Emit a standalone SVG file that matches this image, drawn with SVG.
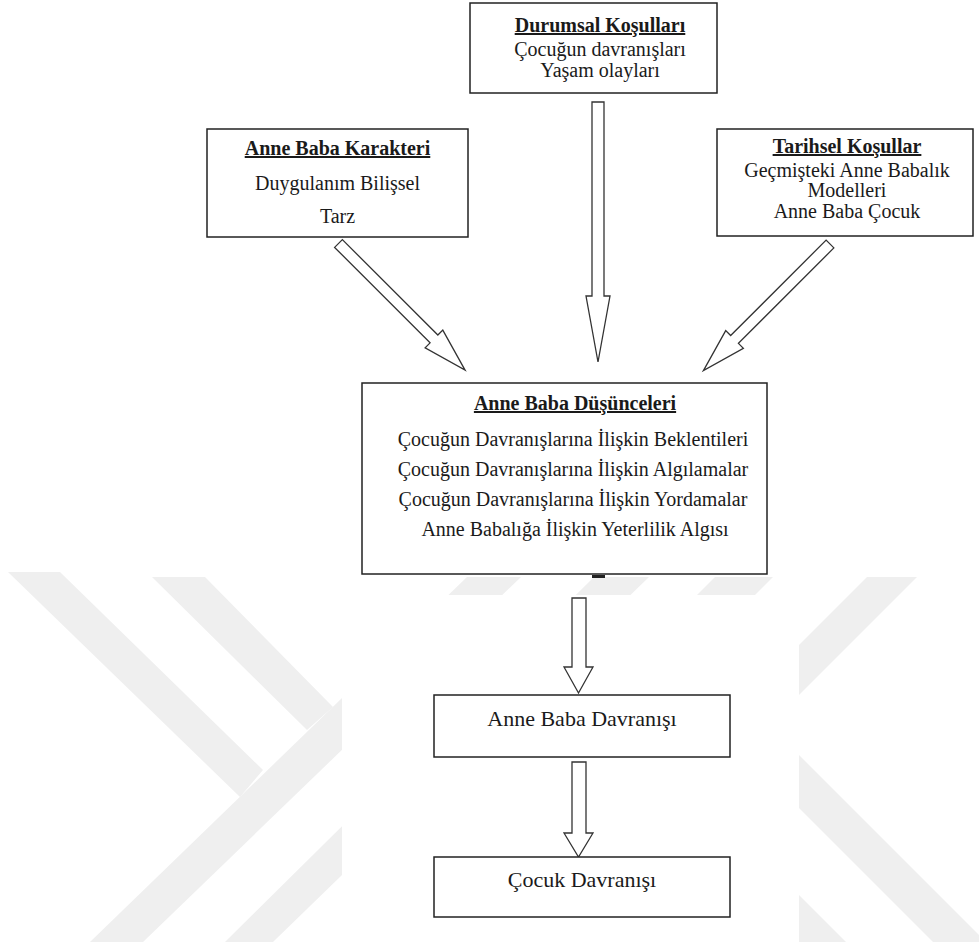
<svg xmlns="http://www.w3.org/2000/svg" width="979" height="947" viewBox="0 0 979 947">
<style>
.box{fill:#fff;stroke:#222;stroke-width:1.5}
.arr{fill:#fff;stroke:#333;stroke-width:1.3;stroke-linejoin:miter}
.t{font-family:"Liberation Serif","Times New Roman",serif;font-size:20px;fill:#1a1a1a;text-anchor:middle}
.tb{font-weight:bold;text-decoration:underline}
.tl{font-size:22px}
.wm{fill:#efefef}
</style>
<rect x="0" y="0" width="979" height="947" fill="#fff"/>
<g id="watermark">
<polygon class="wm" points="8,572 60,572 263,770 240,797"/>
<polygon class="wm" points="152,577 205,577 333,707 307,730"/>
<polygon class="wm" points="90,942 143,942 521,577 467,577"/>
<polygon class="wm" points="225,942 273,942 649,577 594,577"/>
<polygon class="wm" points="715,577 773,577 700,650 642,650"/>
<polygon class="wm" points="867,577 917,577 760,734 710,734"/>
<polygon class="wm" points="790,746 986,942 933,942 790,799"/>
<polygon class="wm" points="790,886 846,942 790,942"/>
<rect x="342" y="595" width="457" height="352" fill="#fff"/>
</g>
<g id="connectors">
<polygon class="arr" points="0,-5.5 135,-5.5 135,-12.5 179,0 135,12.5 135,5.5 0,5.5" transform="translate(338.5,243.5) rotate(45)"/>
<polygon class="arr" points="592,102 604,102 604,296 610,296 598,362 586,296 592,296"/>
<polygon class="arr" points="0,-5.5 135,-5.5 135,-12.5 179,0 135,12.5 135,5.5 0,5.5" transform="translate(830,244) rotate(135)"/>
<rect x="592" y="575" width="13" height="3" fill="#222"/>
<polygon class="arr" points="572,598 586,598 586,667 593,667 578.5,693 564,667 572,667"/>
<polygon class="arr" points="572,762 586,762 586,833 593,833 578.5,857 564,833 572,833"/>
</g>
<g id="durumsal">
<rect class="box" x="470" y="3" width="247" height="90"/>
<text class="t tb" x="600" y="32">Durumsal Koşulları</text>
<text class="t" x="600" y="56">Çocuğun davranışları</text>
<text class="t" x="600" y="77">Yaşam olayları</text>
</g>
<g id="karakter">
<rect class="box" x="207" y="129" width="261" height="108"/>
<text class="t tb" x="337.5" y="155">Anne Baba Karakteri</text>
<text class="t" x="337.5" y="190">Duygulanım Bilişsel</text>
<text class="t" x="337.5" y="223">Tarz</text>
</g>
<g id="tarihsel">
<rect class="box" x="717" y="129" width="256" height="107"/>
<text class="t tb" x="847" y="153">Tarihsel Koşullar</text>
<text class="t" x="847" y="177">Geçmişteki Anne Babalık</text>
<text class="t" x="847" y="197">Modelleri</text>
<text class="t" x="847" y="218">Anne Baba Çocuk</text>
</g>
<g id="dusunceler">
<rect class="box" x="362" y="383" width="405" height="191"/>
<text class="t tb" x="575" y="410">Anne Baba Düşünceleri</text>
<text class="t" x="573" y="446">Çocuğun Davranışlarına İlişkin Beklentileri</text>
<text class="t" x="573" y="476">Çocuğun Davranışlarına İlişkin Algılamalar</text>
<text class="t" x="573" y="506">Çocuğun Davranışlarına İlişkin Yordamalar</text>
<text class="t" x="575" y="536">Anne Babalığa İlişkin Yeterlilik Algısı</text>
</g>
<g id="davranis">
<rect class="box" x="434" y="695" width="296" height="62"/>
<text class="t tl" x="582" y="726">Anne Baba Davranışı</text>
</g>
<g id="cocuk">
<rect class="box" x="434" y="857" width="296" height="60"/>
<text class="t tl" x="582" y="887">Çocuk Davranışı</text>
</g>
</svg>
